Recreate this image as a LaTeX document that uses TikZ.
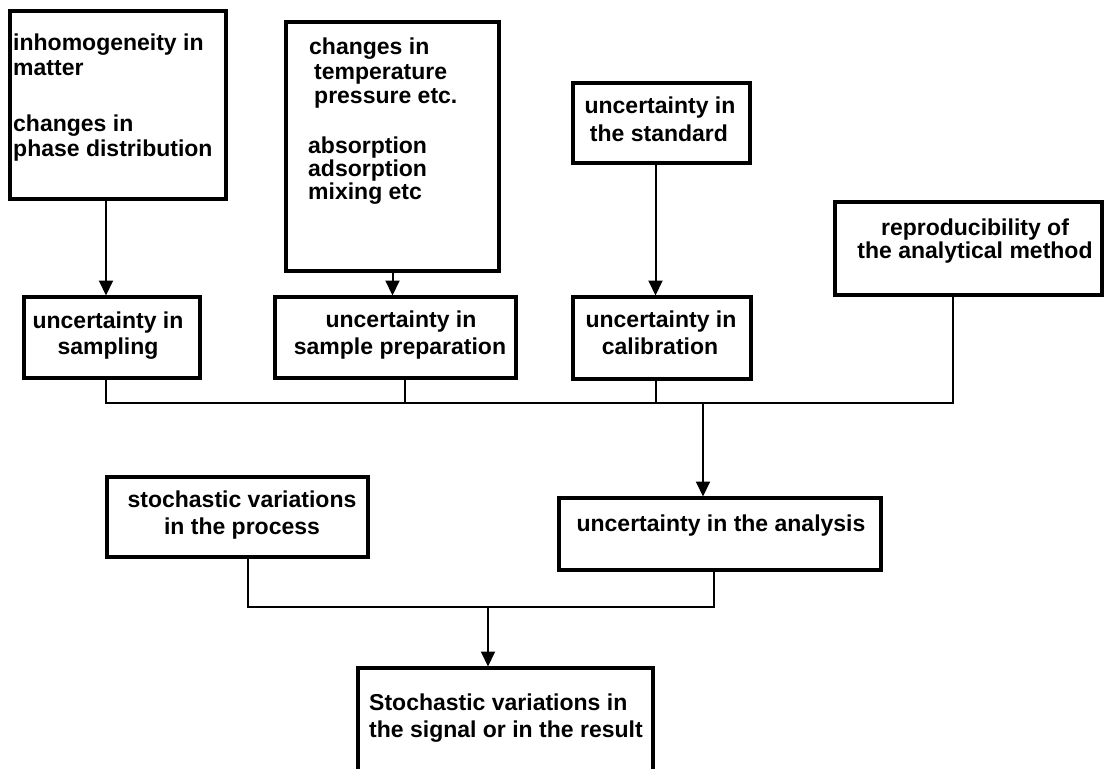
\documentclass[tikz,border=0pt]{standalone}
\usepackage{fontspec}
\setmainfont{Liberation Sans}
\usetikzlibrary{arrows.meta}
\begin{document}
\begin{tikzpicture}[x=1pt,y=-1pt,
  box/.style={draw=black, line width=3.5pt, fill=white, inner sep=0pt, outer sep=0pt},
  lbl/.style={inner sep=0pt, font=\bfseries\fontsize{23}{27}\selectfont, text=black},
  ln/.style={draw=black, line width=2pt},
  arr/.style={ln, -{Triangle[width=14pt,length=15pt]}, shorten >=1.5pt}]
\useasboundingbox (0,0) rectangle (1104,769);
\clip (0,0) rectangle (1104,769);
\fill[white] (0,0) rectangle (1104,769);
% boxes
\node[box, minimum width=216pt, minimum height=188pt] (b1) at (118,105) {};
\node[box, minimum width=213pt, minimum height=249pt] (b2) at (392.5,146.5) {};
\node[box, minimum width=177pt, minimum height=80pt] (b3) at (661.5,123) {};
\node[box, minimum width=267pt, minimum height=93pt] (b4) at (968.5,248.5) {};
\node[box, minimum width=176pt, minimum height=81pt] (b5) at (112,337.5) {};
\node[box, minimum width=241pt, minimum height=81pt] (b6) at (395.5,337.5) {};
\node[box, minimum width=178pt, minimum height=82pt] (b7) at (662,338) {};
\node[box, minimum width=261pt, minimum height=80pt] (b8) at (237.5,517) {};
\node[box, minimum width=322pt, minimum height=72pt] (b9) at (720,534) {};
\node[box, minimum width=295pt, minimum height=122pt] (b10) at (505.5,729) {};
% junction coordinates
\coordinate (c1) at (106,403);
\coordinate (c2) at (405,403);
\coordinate (c3) at (655.5,403);
\coordinate (c4) at (953,403);
\coordinate (c5) at (703,403);
\coordinate (d1) at (248,607);
\coordinate (d2) at (714,607);
\coordinate (d3) at (488,607);
% connectors
\draw[arr] (b1.south -| c1) -- (b5.north -| c1);
\draw[arr] (b2.south) -- (b2.south |- b6.north);
\draw[arr] (b3.south -| c3) -- (b7.north -| c3);
\draw[ln] (b5.south -| c1) -- (c1) -- (c4) -- (b4.south -| c4);
\draw[ln] (b6.south -| c2) -- (c2);
\draw[ln] (b7.south -| c3) -- (c3);
\draw[arr] (c5) -- (b9.north -| c5);
\draw[ln] (b8.south -| d1) -- (d1) -- (d2) -- (b9.south -| d2);
\draw[arr] (d3) -- (b10.north -| d3);
% texts box 1
\node[lbl, anchor=base west] (t1a) at (13,50) {inhomogeneity in};
\node[lbl, anchor=base west] (t1b) at (13,75) {matter};
\node[lbl, anchor=base west] (t1c) at (13,131) {changes in};
\node[lbl, anchor=base west] (t1d) at (13,156) {phase distribution};
% box 2
\node[lbl, anchor=base west] (t2a) at (309,54) {changes in};
\node[lbl, anchor=base west] (t2b) at (314,79) {temperature};
\node[lbl, anchor=base west] (t2c) at (314,103) {pressure etc.};
\node[lbl, anchor=base west] (t2d) at (308,153) {absorption};
\node[lbl, anchor=base west] (t2e) at (308,176) {adsorption};
\node[lbl, anchor=base west] (t2f) at (308,199) {mixing etc};
% box 3
\node[lbl, anchor=base] (t3a) at (660,113) {uncertainty in};
\node[lbl, anchor=base] (t3b) at (659,141) {the standard};
% box 4
\node[lbl, anchor=base] (t4a) at (975,235) {reproducibility of};
\node[lbl, anchor=base] (t4b) at (975,258) {the analytical method};
% box 5
\node[lbl, anchor=base] (t5a) at (108,328) {uncertainty in};
\node[lbl, anchor=base] (t5b) at (108,354) {sampling};
% box 6
\node[lbl, anchor=base] (t6a) at (401,327) {uncertainty in};
\node[lbl, anchor=base] (t6b) at (400,354) {sample preparation};
% box 7
\node[lbl, anchor=base] (t7a) at (661,327) {uncertainty in};
\node[lbl, anchor=base] (t7b) at (660,354) {calibration};
% box 8
\node[lbl, anchor=base] (t8a) at (242,507) {stochastic variations};
\node[lbl, anchor=base] (t8b) at (242,534) {in the process};
% box 9
\node[lbl, anchor=base] (t9a) at (721,531) {uncertainty in the analysis};
% box 10
\node[lbl, anchor=base west] (t10a) at (369,710) {Stochastic variations in};
\node[lbl, anchor=base west] (t10b) at (369,737) {the signal or in the result};
\end{tikzpicture}
\end{document}
